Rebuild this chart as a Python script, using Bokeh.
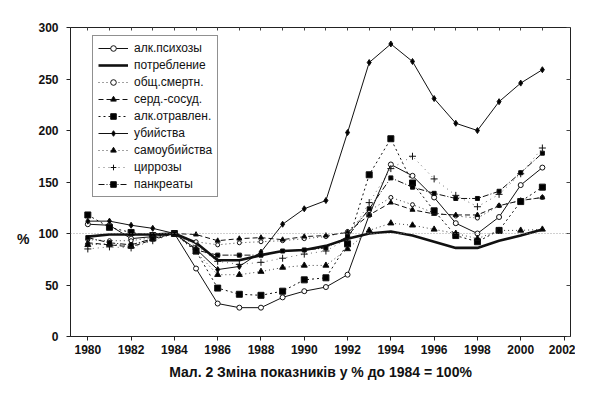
from bokeh.plotting import figure
from bokeh.models import (Range1d, FixedTicker, Legend, LegendItem, Span,
                          LinearAxis, Title)
from bokeh.embed import file_html
from bokeh.resources import INLINE

years = list(range(1980, 2002))

alk_psych = [109, 108, 95, 97, 100, 66, 32, 28, 28, 38, 44, 48, 60,
             118, 167, 156, 135, 110, 100, 116, 147, 164]
consumption = [97, 99, 99, 99, 100, 91, 74, 74, 79, 83, 84, 88, 95,
               100, 102, 98, 92, 86, 86, 93, 98, 104]
total_mort = [94, 93, 93, 96, 100, 92, 89, 91, 92, 93, 95, 97, 102,
              122, 135, 128, 120, 117, 115, 127, 132, 135]
cardio = [91, 89, 87, 94, 100, 99, 93, 95, 96, 94, 97, 98, 101,
          118, 130, 123, 119, 118, 118, 127, 132, 135]
alk_pois = [118, 106, 101, 98, 100, 83, 47, 41, 40, 44, 55, 57, 90,
            157, 192, 149, 122, 98, 92, 103, 131, 145]
homicide = [112, 112, 108, 105, 100, 85, 65, 68, 82, 109, 124, 132, 198,
            266, 284, 267, 231, 207, 200, 228, 246, 259]
suicide = [89, 90, 88, 95, 100, 82, 60, 60, 63, 67, 69, 69, 85,
           103, 110, 108, 104, 100, 95, 103, 103, 104]
cirrhosis = [85, 87, 86, 93, 100, 88, 73, 70, 72, 76, 80, 83, 95,
             130, 163, 175, 153, 137, 126, 138, 158, 183]
pancreat = [96, 91, 89, 95, 100, 84, 79, 79, 79, 83, 84, 86, 97,
            124, 154, 145, 139, 134, 134, 141, 159, 178]

labels = ["алк.психозы", "потребление", "общ.смертн.", "серд.-сосуд.",
          "алк.отравлен.", "убийства", "самоубийства", "циррозы", "панкреаты"]
x_ticks = list(range(1980, 2003, 2))
y_ticks = [0, 50, 100, 150, 200, 250, 300]
title_text = "Мал. 2 Зміна показників у % до 1984 = 100%"
y_unit = "%"
y_unit_level = 95

FONT = "Liberation Sans"
W, H = 575, 384
LEFT, TOP, RIGHT = 70, 27, 5

p = figure(width=W, height=H, output_backend="svg", toolbar_location=None,
           x_range=Range1d(1979.2, 2002.3), y_range=Range1d(0, 300),
           min_border_left=LEFT, min_border_right=RIGHT, min_border_top=TOP,
           min_border_bottom=4)
p.background_fill_color = "white"
p.border_fill_color = "white"
p.outline_line_color = "#222222"
p.outline_line_width = 1
p.xgrid.visible = False
p.ygrid.visible = False

p.xaxis.ticker = FixedTicker(ticks=x_ticks, minor_ticks=[])
p.yaxis.ticker = FixedTicker(ticks=y_ticks, minor_ticks=[])
for ax in (p.xaxis[0], p.yaxis[0]):
    ax.major_label_text_font = FONT
    ax.major_label_text_font_size = "12px"
    ax.major_label_text_font_style = "bold"
    ax.major_label_text_color = "#111111"
    ax.axis_line_color = "#222222"
    ax.major_tick_line_color = "#222222"
    ax.major_tick_out = 4
    ax.major_tick_in = 0
    ax.minor_tick_out = 0
    ax.minor_tick_in = 0
p.xaxis.major_label_standoff = 4
p.yaxis.major_label_standoff = 8

# "%" unit mark, placed as a tick label of a bare extra left axis
unit_axis = LinearAxis(ticker=FixedTicker(ticks=[y_unit_level], minor_ticks=[]),
                       major_label_overrides={y_unit_level: y_unit},
                       major_label_text_font=FONT, major_label_text_font_size="14px",
                       major_label_text_font_style="bold",
                       major_label_text_color="#111111",
                       major_label_standoff=6, major_tick_in=0, major_tick_out=0,
                       axis_line_color=None, major_tick_line_color=None)
p.add_layout(unit_axis, "left")

top = LinearAxis(ticker=FixedTicker(ticks=years, minor_ticks=[]),
                 major_label_overrides={y: "" for y in years},
                 major_tick_in=3, major_tick_out=0, major_label_standoff=0,
                 axis_line_color=None, major_tick_line_color="#444444")
right = LinearAxis(ticker=FixedTicker(ticks=y_ticks, minor_ticks=[]),
                   major_label_overrides={v: "" for v in y_ticks},
                   major_tick_in=4, major_tick_out=0, major_label_standoff=0,
                   axis_line_color=None, major_tick_line_color="#444444")
p.add_layout(top, "above")
p.add_layout(right, "right")

p.add_layout(Span(location=100, dimension="width", line_color="#888888",
                  line_width=0.8, line_dash="1 2"))

items = []

def series(vals, label, line_width=1.0, dash="solid", marker=None, size=5,
           fill="black"):
    rs = []
    rs.append(p.line(years, vals, line_color="#111111", line_width=line_width,
                     line_dash=dash))
    if marker:
        rs.append(p.scatter(years, vals, marker=marker, size=size,
                            line_color="#111111", fill_color=fill, line_width=1))
    items.append(LegendItem(label=label, renderers=rs))

series(alk_psych, labels[0], 1.0, "solid", "circle", 5, "white")
series(consumption, labels[1], 2.6, "solid")
series(total_mort, labels[2], 0.8, "1 3", "circle", 4, "white")
series(cardio, labels[3], 1.0, "5 3", "triangle", 5)
series(alk_pois, labels[4], 1.0, "2 3", "square", 6)
series(homicide, labels[5], 1.0, "solid", "diamond", 6)
series(suicide, labels[6], 0.8, "1 3", "triangle", 6)
series(cirrhosis, labels[7], 0.6, "1 4", "cross", 7, None)
series(pancreat, labels[8], 1.0, "6 2 1 2", "square", 4)

legend = Legend(items=items, location=(22, 139))
legend.label_text_font = FONT
legend.label_text_font_size = "12px"
legend.label_text_color = "#111111"
legend.glyph_width = 30
legend.glyph_height = 14
legend.label_height = 14
legend.label_standoff = 6
legend.spacing = 3
legend.padding = 5
legend.margin = 0
legend.border_line_color = "#222222"
legend.border_line_width = 1
legend.background_fill_alpha = 1
p.add_layout(legend)

t = Title(text=title_text, align="center", text_font=FONT, text_font_size="14px",
          text_font_style="bold", text_color="#111111")
p.add_layout(t, "below")

open("out.html", "w").write(file_html(p, INLINE))
